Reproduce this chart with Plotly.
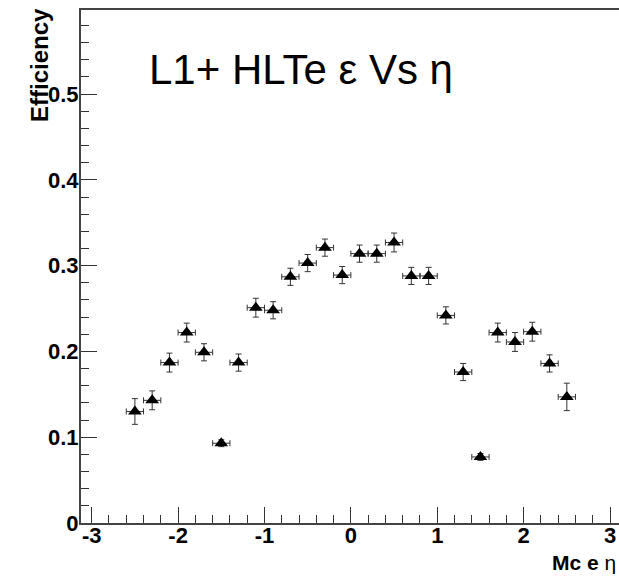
import plotly.graph_objects as go

eta = [-2.5, -2.3, -2.1, -1.9, -1.7, -1.5, -1.3, -1.1, -0.9, -0.7, -0.5, -0.3, -0.1,
       0.1, 0.3, 0.5, 0.7, 0.9, 1.1, 1.3, 1.5, 1.7, 1.9, 2.1, 2.3, 2.5]
eff = [0.130, 0.143, 0.187, 0.222, 0.199, 0.093, 0.187, 0.251, 0.248, 0.287, 0.303, 0.321, 0.289,
       0.314, 0.314, 0.327, 0.288, 0.288, 0.242, 0.176, 0.077, 0.222, 0.211, 0.223, 0.186, 0.147]
eff_err = [0.015, 0.011, 0.011, 0.011, 0.010, 0.004, 0.010, 0.011, 0.010, 0.010, 0.010, 0.010, 0.010,
           0.010, 0.010, 0.011, 0.010, 0.010, 0.010, 0.010, 0.004, 0.011, 0.011, 0.011, 0.010, 0.016]
eta_halfbin = [0.1] * len(eta)

x_ticks = [-3, -2, -1, 0, 1, 2, 3]
x_ticktext = ["-3", "-2", "-1", "0", "1", "2", "3"]
y_ticks = [0, 0.1, 0.2, 0.3, 0.4, 0.5]
y_ticktext = ["0", "0.1", "0.2", "0.3", "0.4", "0.5"]

FONT = "Liberation Sans, Arial, Helvetica, sans-serif"

fig = go.Figure()
fig.add_trace(go.Scatter(
    x=eta, y=eff, mode="markers",
    marker=dict(symbol="triangle-up", size=12, color="black"),
    error_x=dict(type="data", array=eta_halfbin, color="#333333", thickness=1, width=3),
    error_y=dict(type="data", array=eff_err, color="#333333", thickness=1, width=3),
    showlegend=False,
))

fig.update_layout(
    width=619, height=576,
    margin=dict(l=81, r=0, t=10, b=53),
    paper_bgcolor="white", plot_bgcolor="white",
    font=dict(family=FONT, color="black"),
    xaxis=dict(
        range=[-3.124, 3.104], showgrid=False, zeroline=False,
        tickmode="array", tickvals=x_ticks, ticktext=x_ticktext,
        ticks="inside", ticklen=16, tickwidth=1, tickcolor="#333333",
        minor=dict(dtick=0.2, tick0=0, ticks="inside", ticklen=8, tickwidth=1, tickcolor="#333333"),
        showline=True, linewidth=2, linecolor="#444444", mirror=True,
        tickfont=dict(family=FONT, size=22, weight="bold", color="black"),
        ticklabelstandoff=-8,
    ),
    yaxis=dict(
        range=[0, 0.598], showgrid=False, zeroline=False,
        tickmode="array", tickvals=y_ticks, ticktext=y_ticktext,
        ticks="inside", ticklen=16, tickwidth=1, tickcolor="#333333",
        minor=dict(dtick=0.02, tick0=0, ticks="inside", ticklen=8, tickwidth=1, tickcolor="#333333"),
        showline=True, linewidth=2, linecolor="#444444",
        tickfont=dict(family=FONT, size=22, weight="bold", color="black"),
        ticklabelstandoff=-4,
    ),
    annotations=[
        dict(text="L1+ HLTe \u03b5 Vs \u03b7", xref="paper", yref="paper",
             x=(147 - 81) / 538, y=(523 - 69) / 513, xanchor="left", yanchor="middle",
             showarrow=False, font=dict(family=FONT, size=42, color="black")),
        dict(text="Efficiency", xref="paper", yref="paper", textangle=-90,
             x=(39 - 81) / 538, y=(523 - 65) / 513, xanchor="center", yanchor="middle",
             showarrow=False, font=dict(family=FONT, size=24, weight="bold", color="black")),
        dict(text="<b>Mc e</b> \u03b7", xref="paper", yref="paper",
             x=(618 - 81) / 538, y=(523 - 562) / 513, xanchor="right", yanchor="middle",
             showarrow=False, font=dict(family=FONT, size=21, color="black")),
    ],
)

fig.write_html("out.html")
